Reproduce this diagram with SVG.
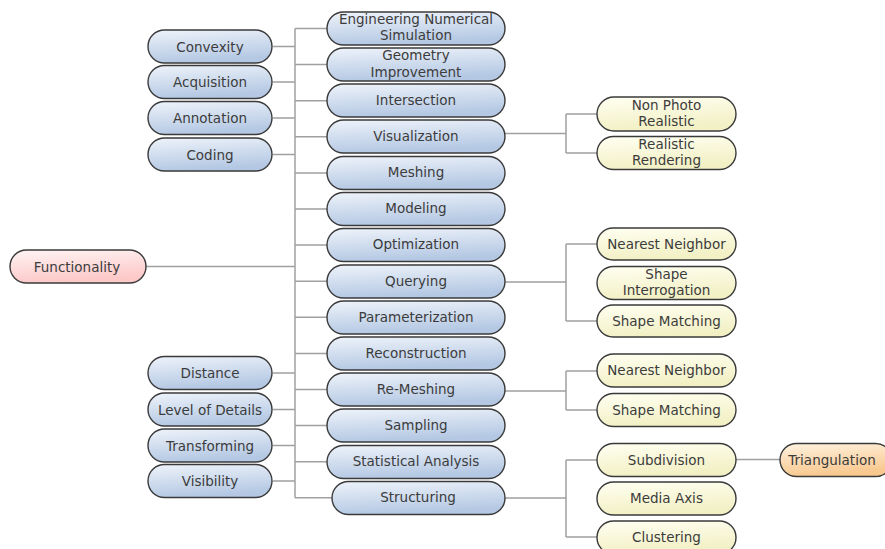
<svg xmlns="http://www.w3.org/2000/svg" width="885" height="549" viewBox="0 0 885 549">
<defs>
<linearGradient id="gb" x1="0" y1="0" x2="0.25" y2="1"><stop offset="0" stop-color="#eef3fa"/><stop offset="1" stop-color="#b4c8e3"/></linearGradient>
<linearGradient id="gy" x1="0" y1="0" x2="0.25" y2="1"><stop offset="0" stop-color="#fffff2"/><stop offset="1" stop-color="#f2f0c4"/></linearGradient>
<linearGradient id="gp" x1="0" y1="0" x2="0.25" y2="1"><stop offset="0" stop-color="#fff4f4"/><stop offset="1" stop-color="#fdc8c8"/></linearGradient>
<linearGradient id="go" x1="0" y1="0" x2="0.25" y2="1"><stop offset="0" stop-color="#fff2e0"/><stop offset="1" stop-color="#f8c88e"/></linearGradient>
</defs>
<style>
rect{stroke:#3a3a3a;stroke-width:1.4}
.b rect{fill:url(#gb)}
.y rect{fill:url(#gy)}
.p rect{fill:url(#gp)}
.o rect{fill:url(#go)}
text{font-family:"DejaVu Sans",Verdana,sans-serif;font-size:13.5px;fill:#3c3c3c;text-anchor:middle}
#connectors path{fill:none;stroke:#a0a0a0;stroke-width:1.5}
</style>
<g id="connectors">
<path d="M295 28.5V497.8"/>
<path d="M146 266.5H295"/>
<path d="M273 46.5H295M273 82H295M273 118H295M273 154.5H295M273 373H295M273 409.5H295M273 445.5H295M273 481H295"/>
<path d="M295 28.5H327M295 64.6H327M295 100.7H327M295 136.8H327M295 172.9H327M295 209H327M295 245.1H327M295 281.2H327M295 317.3H327M295 353.4H327M295 389.5H327M295 425.6H327M295 461.7H327M295 497.8H332"/>
<path d="M505 133.5H566M566 114V153M566 114H597M566 153H597"/>
<path d="M505 282H566M566 244V321M566 244H597M566 321H597"/>
<path d="M505 391H566M566 371V410M566 371H597M566 410H597"/>
<path d="M505 498H566M566 460V537M566 460H597M566 537H597"/>
<path d="M736 459.5H780"/>
</g>
<g id="functionality" class="p"><rect x="10" y="250" width="136" height="33" rx="16.5"/><text x="77" y="271.5">Functionality</text></g>
<g id="convexity" class="b"><rect x="148" y="30" width="124" height="33" rx="16.5"/><text x="210" y="51.5">Convexity</text></g>
<g id="acquisition" class="b"><rect x="148" y="65.5" width="124" height="33" rx="16.5"/><text x="210" y="87">Acquisition</text></g>
<g id="annotation" class="b"><rect x="148" y="101.5" width="124" height="33" rx="16.5"/><text x="210" y="123">Annotation</text></g>
<g id="coding" class="b"><rect x="148" y="138" width="124" height="33" rx="16.5"/><text x="210" y="159.5">Coding</text></g>
<g id="distance" class="b"><rect x="148" y="356.5" width="124" height="33" rx="16.5"/><text x="210" y="378">Distance</text></g>
<g id="level-of-details" class="b"><rect x="148" y="393" width="124" height="33" rx="16.5"/><text x="210" y="414.5">Level of Details</text></g>
<g id="transforming" class="b"><rect x="148" y="429" width="124" height="33" rx="16.5"/><text x="210" y="450.5">Transforming</text></g>
<g id="visibility" class="b"><rect x="148" y="464.5" width="124" height="33" rx="16.5"/><text x="210" y="486">Visibility</text></g>
<g id="engineering" class="b"><rect x="327" y="12" width="178" height="33" rx="16.5"/><text x="416" y="23.5">Engineering Numerical</text><text x="416" y="40">Simulation</text></g>
<g id="geometry" class="b"><rect x="327" y="48" width="178" height="33" rx="16.5"/><text x="416" y="60">Geometry</text><text x="416" y="76.5">Improvement</text></g>
<g id="intersection" class="b"><rect x="327" y="84" width="178" height="33" rx="16.5"/><text x="416" y="104.5">Intersection</text></g>
<g id="visualization" class="b"><rect x="327" y="120" width="178" height="33" rx="16.5"/><text x="416" y="140.5">Visualization</text></g>
<g id="meshing" class="b"><rect x="327" y="156.5" width="178" height="33" rx="16.5"/><text x="416" y="177">Meshing</text></g>
<g id="modeling" class="b"><rect x="327" y="192.5" width="178" height="33" rx="16.5"/><text x="416" y="213">Modeling</text></g>
<g id="optimization" class="b"><rect x="327" y="228.5" width="178" height="33" rx="16.5"/><text x="416" y="249">Optimization</text></g>
<g id="querying" class="b"><rect x="327" y="265" width="178" height="33" rx="16.5"/><text x="416" y="285.5">Querying</text></g>
<g id="parameterization" class="b"><rect x="327" y="301" width="178" height="33" rx="16.5"/><text x="416" y="321.5">Parameterization</text></g>
<g id="reconstruction" class="b"><rect x="327" y="337" width="178" height="33" rx="16.5"/><text x="416" y="357.5">Reconstruction</text></g>
<g id="re-meshing" class="b"><rect x="327" y="373" width="178" height="33" rx="16.5"/><text x="416" y="393.5">Re-Meshing</text></g>
<g id="sampling" class="b"><rect x="327" y="409" width="178" height="33" rx="16.5"/><text x="416" y="429.5">Sampling</text></g>
<g id="statistical-analysis" class="b"><rect x="327" y="445.5" width="178" height="33" rx="16.5"/><text x="416" y="466">Statistical Analysis</text></g>
<g id="structuring" class="b"><rect x="332" y="481.5" width="173" height="33" rx="16.5"/><text x="418" y="502">Structuring</text></g>
<g id="non-photo-realistic" class="y"><rect x="597" y="97" width="139" height="34" rx="17"/><text x="666.5" y="109.5">Non Photo</text><text x="666.5" y="126">Realistic</text></g>
<g id="realistic-rendering" class="y"><rect x="597" y="136.5" width="139" height="33" rx="16.5"/><text x="666.5" y="148.5">Realistic</text><text x="666.5" y="165">Rendering</text></g>
<g id="nearest-neighbor-1" class="y"><rect x="597" y="228" width="139" height="32" rx="16"/><text x="666.5" y="248.5">Nearest Neighbor</text></g>
<g id="shape-interrogation" class="y"><rect x="597" y="266.5" width="139" height="33" rx="16.5"/><text x="666.5" y="278.5">Shape</text><text x="666.5" y="295">Interrogation</text></g>
<g id="shape-matching-1" class="y"><rect x="597" y="305" width="139" height="32" rx="16"/><text x="666.5" y="325.5">Shape Matching</text></g>
<g id="nearest-neighbor-2" class="y"><rect x="597" y="354" width="139" height="33" rx="16.5"/><text x="666.5" y="375">Nearest Neighbor</text></g>
<g id="shape-matching-2" class="y"><rect x="597" y="393.5" width="139" height="33" rx="16.5"/><text x="666.5" y="414.5">Shape Matching</text></g>
<g id="subdivision" class="y"><rect x="597" y="443.5" width="139" height="33" rx="16.5"/><text x="666.5" y="464.5">Subdivision</text></g>
<g id="media-axis" class="y"><rect x="597" y="482" width="139" height="33" rx="16.5"/><text x="666.5" y="503">Media Axis</text></g>
<g id="clustering" class="y"><rect x="597" y="521" width="139" height="33" rx="16.5"/><text x="666.5" y="541.5">Clustering</text></g>
<g id="triangulation" class="o"><rect x="780" y="443.5" width="112" height="33" rx="16.5"/><text x="832" y="464.5">Triangulation</text></g>
</svg>
